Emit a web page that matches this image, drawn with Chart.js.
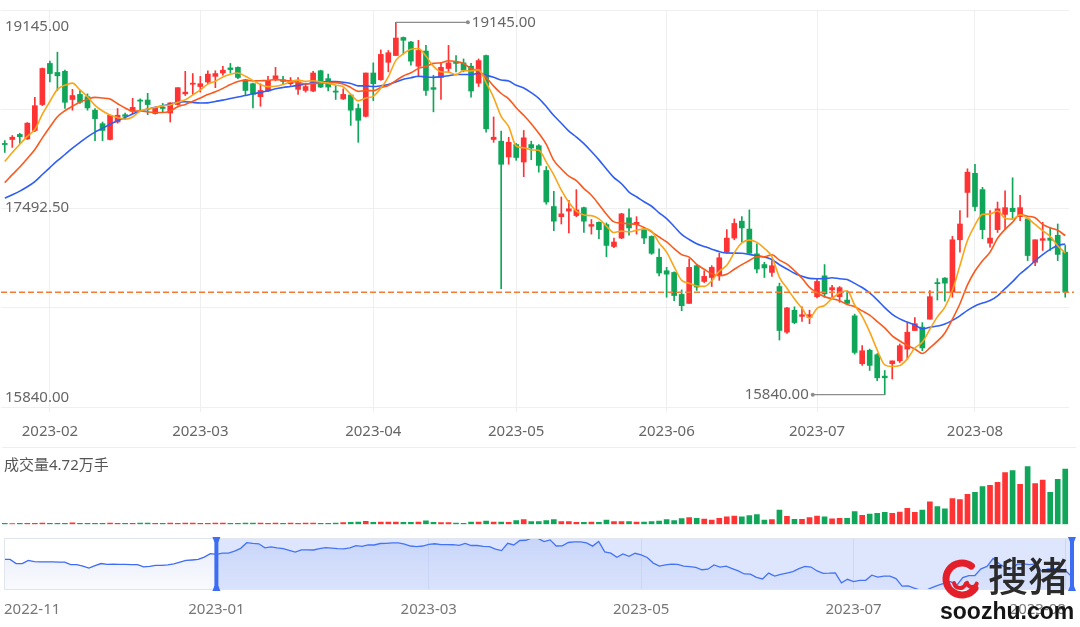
<!DOCTYPE html>
<html>
<head>
<meta charset="utf-8">
<title>K线</title>
<script src="https://cdn.jsdelivr.net/npm/chart.js@4.4.0/dist/chart.umd.min.js"></script>
<style>
  body { margin: 0; background: #fff; }
  #wrap { position: relative; width: 1080px; height: 627px; overflow: hidden; }
  canvas { position: absolute; left: 0; }
  #sep { position: absolute; left: 2px; top: 447px; width: 1074px; height: 1px; background: #eeeeee; }
</style>
</head>
<body>
<div id="wrap">
  <canvas id="kline" width="1080" height="452" style="top:0"></canvas>
  <div id="sep"></div>
  <canvas id="vol" width="1080" height="80" style="top:450px"></canvas>
  <canvas id="slider" width="1080" height="100" style="top:530px"></canvas>
</div>
<script>
// closes before the visible window (only shown in the slider)
const preDates = [
  '2022-11-28','2022-11-29','2022-11-30','2022-12-01','2022-12-02','2022-12-05','2022-12-06','2022-12-07',
  '2022-12-08','2022-12-09','2022-12-12','2022-12-13','2022-12-14','2022-12-15','2022-12-16','2022-12-19',
  '2022-12-20','2022-12-21','2022-12-22','2022-12-23','2022-12-26','2022-12-27','2022-12-28','2022-12-29',
  '2022-12-30','2023-01-03','2023-01-04','2023-01-05','2023-01-06','2023-01-09','2023-01-10','2023-01-11',
  '2023-01-12','2023-01-13','2023-01-16'
];
const preCloses = [
  17760,17760,17525,17525,17705,17640,17625,17620,17615,17610,
  17605,17460,17460,17380,17265,17400,17525,17480,17485,17475,
  17480,17460,17460,17330,17360,17415,17415,17450,17500,17600,
  17705,17730,17760,17900,18100
];

const dates = [
  '2023-01-17','2023-01-18','2023-01-19','2023-01-20','2023-01-30','2023-01-31',
  '2023-02-01','2023-02-02','2023-02-03','2023-02-06','2023-02-07','2023-02-08','2023-02-09','2023-02-10',
  '2023-02-13','2023-02-14','2023-02-15','2023-02-16','2023-02-17','2023-02-20','2023-02-21','2023-02-22',
  '2023-02-23','2023-02-24','2023-02-27','2023-02-28',
  '2023-03-01','2023-03-02','2023-03-03','2023-03-06','2023-03-07','2023-03-08','2023-03-09','2023-03-10',
  '2023-03-13','2023-03-14','2023-03-15','2023-03-16','2023-03-17','2023-03-20','2023-03-21','2023-03-22',
  '2023-03-23','2023-03-24','2023-03-27','2023-03-28','2023-03-29','2023-03-30','2023-03-31',
  '2023-04-03','2023-04-04','2023-04-06','2023-04-07','2023-04-10','2023-04-11','2023-04-12','2023-04-13',
  '2023-04-14','2023-04-17','2023-04-18','2023-04-19','2023-04-20','2023-04-21','2023-04-24','2023-04-25',
  '2023-04-26','2023-04-27','2023-04-28',
  '2023-05-04','2023-05-05','2023-05-08','2023-05-09','2023-05-10','2023-05-11','2023-05-12','2023-05-15',
  '2023-05-16','2023-05-17','2023-05-18','2023-05-19','2023-05-22','2023-05-23','2023-05-24','2023-05-25',
  '2023-05-26','2023-05-29','2023-05-30','2023-05-31',
  '2023-06-01','2023-06-02','2023-06-05','2023-06-06','2023-06-07','2023-06-08','2023-06-09','2023-06-12',
  '2023-06-13','2023-06-14','2023-06-15','2023-06-16','2023-06-19','2023-06-20','2023-06-21','2023-06-26',
  '2023-06-27','2023-06-28','2023-06-29','2023-06-30',
  '2023-07-03','2023-07-04','2023-07-05','2023-07-06','2023-07-07','2023-07-10','2023-07-11','2023-07-12',
  '2023-07-13','2023-07-14','2023-07-17','2023-07-18','2023-07-19','2023-07-20','2023-07-21','2023-07-24',
  '2023-07-25','2023-07-26','2023-07-27','2023-07-28','2023-07-31',
  '2023-08-01','2023-08-02','2023-08-03','2023-08-04','2023-08-07','2023-08-08','2023-08-09','2023-08-10',
  '2023-08-11','2023-08-14','2023-08-15','2023-08-16','2023-08-17'
];

const opens = [
  18070,18105,18150,18110,18185,18415,18780,18700,18710,18460,
  18505,18485,18365,18245,18105,18260,18325,18355,18455,18455,
  18335,18390,18340,18415,18510,18595,18575,18615,18665,18695,
  18740,18745,18635,18600,18485,18535,18645,18635,18600,18550,
  18540,18535,18715,18645,18535,18465,18500,18380,18310,18695,
  18635,18790,18850,19010,18970,18755,18890,18565,18655,18735,
  18795,18785,18755,18605,18850,18105,18090,17950,18060,17905,
  18060,18050,17830,17510,17420,17470,17430,17500,17335,17370,
  17350,17155,17230,17410,17350,17305,17245,17060,16940,16925,
  16730,16650,16985,16845,16880,16905,17105,17230,17380,17310,
  17090,16995,16925,16800,16395,16590,16535,16525,16710,16895,
  16770,16710,16680,16540,16115,16235,16195,16005,16115,16140,
  16245,16410,16440,16510,16835,16875,16750,17215,17635,17805,
  17660,17185,17305,17440,17495,17420,17400,17015,17210,17230,
  17255,17105
];
const highs = [
  18095,18140,18160,18255,18480,18740,18800,18880,18720,18550,
  18540,18510,18380,18260,18320,18380,18340,18470,18465,18515,
  18390,18425,18430,18565,18710,18690,18665,18715,18715,18755,
  18780,18750,18640,18605,18600,18665,18745,18665,18655,18655,
  18605,18710,18720,18685,18585,18555,18505,18420,18695,18785,
  18900,18895,19145,19015,18975,18985,18940,18675,18785,18940,
  18850,18820,18780,18820,18855,18305,18180,18125,18070,18185,
  18090,18060,17865,17645,17595,17565,17660,17505,17395,17375,
  17365,17230,17450,17490,17420,17310,17250,17135,16970,16930,
  16770,17045,16995,16940,16985,17095,17305,17400,17420,17480,
  17180,17015,17030,16830,16615,16620,16620,16590,16865,16995,
  16810,16800,16760,16555,16275,16245,16205,16055,16140,16290,
  16480,16525,16480,16765,16870,16880,17245,17475,17845,17885,
  17680,17475,17550,17650,17765,17610,17405,17215,17370,17320,
  17355,17165
];
const lows = [
  17990,18035,18070,18105,18175,18405,18615,18540,18380,18365,
  18425,18365,18095,18095,18100,18250,18280,18335,18365,18325,
  18330,18350,18260,18410,18495,18505,18525,18600,18565,18675,
  18695,18645,18495,18385,18400,18530,18625,18595,18585,18505,
  18525,18530,18565,18535,18460,18460,18230,18080,18305,18450,
  18630,18705,18850,18865,18765,18660,18495,18350,18460,18700,
  18705,18705,18480,18575,18170,18080,16780,17885,17920,17775,
  17925,17815,17530,17295,17355,17275,17420,17280,17265,17225,
  17065,17145,17225,17255,17265,17180,17085,16895,16705,16675,
  16585,16650,16765,16835,16800,16855,17095,17215,17195,17095,
  16920,16880,16890,16325,16385,16470,16490,16470,16700,16705,
  16705,16660,16645,16200,16100,16055,15965,15840,15980,16125,
  16155,16410,16230,16510,16680,16670,16705,17105,17415,17470,
  17225,17150,17280,17305,17400,17385,17030,16985,17120,17120,
  17030,16705
];
const closes = [
  18060,18125,18130,18250,18405,18735,18690,18670,18435,18495,
  18435,18385,18290,18185,18320,18320,18310,18390,18445,18415,
  18385,18380,18430,18565,18525,18605,18600,18685,18690,18720,
  18725,18655,18540,18505,18540,18630,18670,18620,18625,18615,
  18575,18695,18570,18570,18525,18505,18365,18275,18695,18600,
  18860,18875,19005,18985,18800,18895,18540,18550,18745,18785,
  18780,18720,18535,18805,18200,18125,17885,18080,17945,18120,
  18030,17875,17550,17380,17445,17490,17480,17380,17350,17305,
  17165,17195,17445,17320,17370,17230,17095,16920,16910,16720,
  16630,16970,16795,16890,16970,17055,17230,17360,17320,17095,
  16955,16965,16985,16410,16610,16480,16550,16550,16845,16735,
  16790,16790,16650,16215,16230,16100,15990,15990,16140,16275,
  16395,16470,16255,16710,16825,16830,17215,17355,17815,17510,
  17305,17230,17490,17500,17465,17500,17075,17215,17225,17210,
  17085,16750
];
// volume, 手
const volumes = [
  800,700,900,800,900,1000,900,800,800,1200,
  900,800,900,900,1000,900,800,900,1000,1000,
  900,900,1000,900,1000,1000,900,900,1000,1000,
  900,900,1000,1000,1000,900,1000,900,1000,900,
  1000,1000,900,900,1000,1500,1700,1800,2600,1700,
  2000,2000,1800,1600,1700,1800,3000,1700,1400,1400,
  1100,900,2000,2000,2800,2000,2000,1700,3100,4000,
  2300,2300,3100,4000,2300,2300,1700,1700,2000,1700,
  3700,2300,2300,2300,2000,2000,2300,2800,4000,3100,
  4800,5700,5100,4500,3700,5100,6300,7100,6300,7400,
  8200,3700,4000,12200,6800,4300,4200,5700,7100,6300,
  4600,5100,5100,10800,7700,8800,9400,10200,9400,10500,
  13700,10200,12200,19100,15100,13100,21900,21000,25600,27300,
  32100,33300,35800,44100,45800,34100,49200,34700,37800,27300,
  38400,47200
];

const sliderTickIdx = [0, 35, 70, 105, 140, 175];
const sliderTickText = ['2022-11', '2023-01', '2023-03', '2023-05', '2023-07', '2023-08'];

const FONT = "'Noto Sans', 'Noto Sans CJK SC', sans-serif";
const UP = '#ff3333';
const DOWN = '#10a659';

const candleColors = opens.map((o, i) => (closes[i] >= o ? UP : DOWN));
const allCloses = preCloses.concat(closes);

function movingAverage(n) {
  return closes.map((c, i) => {
    const end = preCloses.length + i;
    let s = 0;
    for (let k = end - n + 1; k <= end; k++) s += allCloses[k];
    return s / n;
  });
}

function isMonthStart(idx) {
  return idx > 0 && dates[idx].slice(0, 7) !== dates[idx - 1].slice(0, 7);
}

const priceMin = Math.min(...lows);
const priceMax = Math.max(...highs);
const pad = (priceMax - priceMin) * 0.033;

// last price line, axis labels, high/low marks
const kDecor = {
  id: 'kDecor',
  afterDatasetsDraw(chart) {
    const { ctx, chartArea: a, scales: { x, y } } = chart;
    const last = closes[closes.length - 1];
    ctx.save();
    const yl = y.getPixelForValue(last);
    ctx.strokeStyle = '#f47a36';
    ctx.lineWidth = 1.5;
    ctx.setLineDash([6, 3]);
    ctx.beginPath();
    ctx.moveTo(a.left, yl);
    ctx.lineTo(a.right + 5, yl);
    ctx.stroke();
    ctx.setLineDash([]);

    ctx.font = '15px ' + FONT;
    ctx.fillStyle = '#666';
    ctx.textBaseline = 'middle';
    ctx.textAlign = 'left';
    [[priceMax, 4], [(priceMax + priceMin) / 2, -1], [priceMin, 3]].forEach(([v, dy]) => {
      ctx.fillText(v.toFixed(2), a.left + 4, y.getPixelForValue(v) + dy);
    });

    const mark = (idx, v, dir) => {
      const px = x.getPixelForValue(idx);
      const py = y.getPixelForValue(v);
      const ex = px + dir * 72;
      ctx.strokeStyle = '#8c8c8c';
      ctx.lineWidth = 1.2;
      ctx.beginPath();
      ctx.moveTo(px, py);
      ctx.lineTo(ex, py);
      ctx.stroke();
      ctx.fillStyle = '#8c8c8c';
      ctx.beginPath();
      ctx.arc(ex, py, 2, 0, Math.PI * 2);
      ctx.fill();
      ctx.fillStyle = '#666';
      ctx.textAlign = dir > 0 ? 'left' : 'right';
      ctx.fillText(v.toFixed(2), ex + dir * 4, py);
    };
    mark(highs.indexOf(priceMax), priceMax, 1);
    mark(lows.indexOf(priceMin), priceMin, -1);
    ctx.restore();
  }
};

const klineChart = new Chart(document.getElementById('kline'), {
  type: 'bar',
  data: {
    labels: dates,
    datasets: [
      { type: 'line', label: 'MA5', data: movingAverage(5), borderColor: '#f9a51a', borderWidth: 1.6,
        pointRadius: 0, cubicInterpolationMode: 'monotone', order: 1 },
      { type: 'line', label: 'MA10', data: movingAverage(10), borderColor: '#fa5a1e', borderWidth: 1.6,
        pointRadius: 0, cubicInterpolationMode: 'monotone', order: 1 },
      { type: 'line', label: 'MA20', data: movingAverage(20), borderColor: '#2f5ef5', borderWidth: 1.6,
        pointRadius: 0, cubicInterpolationMode: 'monotone', order: 1 },
      { label: 'body', data: opens.map((o, i) => [o, closes[i]]), backgroundColor: candleColors,
        barThickness: 5, minBarLength: 1, grouped: false, order: 2 },
      { label: 'wick', data: lows.map((l, i) => [l, highs[i]]), backgroundColor: candleColors,
        barThickness: 1, grouped: false, order: 3 }
    ]
  },
  options: {
    responsive: false,
    animation: false,
    layout: { padding: { left: 1, right: 11, top: 10, bottom: 0 } },
    plugins: { legend: { display: false }, tooltip: { enabled: false } },
    scales: {
      x: {
        offset: true,
        afterBuildTicks: (scale) => { scale.ticks = scale.ticks.filter((t) => isMonthStart(t.value)); },
        grid: { offset: false, color: '#efefef', drawTicks: true, tickLength: 5, tickColor: '#efefef' },
        border: { display: false },
        ticks: {
          autoSkip: false, maxRotation: 0, padding: 11, color: '#666',
          font: { size: 15, family: FONT },
          callback: (value) => dates[value].slice(0, 7)
        }
      },
      y: {
        min: priceMin - pad,
        max: priceMax + pad,
        afterBuildTicks: (scale) => {
          const step = (scale.max - scale.min) / 4;
          scale.ticks = [0, 1, 2, 3, 4].map((k) => ({ value: scale.min + k * step }));
        },
        grid: { color: '#efefef', drawTicks: false },
        border: { display: false },
        ticks: { display: false }
      }
    }
  },
  plugins: [kDecor]
});

const volLabel = {
  id: 'volLabel',
  afterDraw(chart) {
    const ctx = chart.ctx;
    ctx.save();
    ctx.font = '15px ' + FONT;
    ctx.fillStyle = '#555';
    ctx.textBaseline = 'middle';
    ctx.textAlign = 'left';
    ctx.fillText('成交量' + (volumes[volumes.length - 1] / 10000).toFixed(2) + '万手', 4, 16);
    ctx.restore();
  }
};

const volChart = new Chart(document.getElementById('vol'), {
  type: 'bar',
  data: {
    labels: dates,
    datasets: [{ data: volumes, backgroundColor: candleColors, barThickness: 5 }]
  },
  options: {
    responsive: false,
    animation: false,
    layout: { padding: { left: 1, right: 11, top: 15.7, bottom: 5.7 } },
    plugins: { legend: { display: false }, tooltip: { enabled: false } },
    scales: {
      x: { display: false, offset: true },
      y: { display: false, min: 0, max: 50000 }
    }
  },
  plugins: [volLabel]
});

const sliderDecor = {
  id: 'sliderDecor',
  afterDatasetsDraw(chart) {
    const { ctx, chartArea: a, scales: { x } } = chart;
    const x0 = x.getPixelForValue(preCloses.length);
    const x1 = x.getPixelForValue(allCloses.length - 1);
    ctx.save();
    ctx.fillStyle = 'rgba(100,140,245,0.22)';
    ctx.fillRect(x0, a.top, x1 - x0, a.bottom - a.top);
    ctx.strokeStyle = '#e1e5ee';
    ctx.lineWidth = 1;
    ctx.strokeRect(a.left + 0.5, a.top + 0.5, a.right - a.left - 1, a.bottom - a.top - 1);
    ctx.fillStyle = '#3d6df2';
    [x0, x1].forEach((hx) => {
      const t = a.top - 1, b = a.bottom + 1;
      ctx.fillRect(hx - 2, t, 4, b - t);
      ctx.beginPath();
      ctx.moveTo(hx - 4, t); ctx.lineTo(hx + 4, t); ctx.lineTo(hx + 2, t + 5); ctx.lineTo(hx - 2, t + 5);
      ctx.closePath(); ctx.fill();
      ctx.beginPath();
      ctx.moveTo(hx - 4, b); ctx.lineTo(hx + 4, b); ctx.lineTo(hx + 2, b - 5); ctx.lineTo(hx - 2, b - 5);
      ctx.closePath(); ctx.fill();
    });
    ctx.restore();
  },
  afterDraw(chart) {
    // site watermark
    const ctx = chart.ctx;
    ctx.save();
    ctx.strokeStyle = '#e3202a';
    ctx.lineCap = 'round';
    ctx.lineWidth = 7;
    ctx.beginPath();
    ctx.arc(962, 49, 16, 0.2 * Math.PI, 1.7 * Math.PI, false);
    ctx.stroke();
    ctx.lineWidth = 4;
    ctx.beginPath();
    ctx.arc(960, 52, 6, 0.1 * Math.PI, 0.95 * Math.PI, false);
    ctx.stroke();
    ctx.beginPath();
    ctx.arc(972, 52, 5, 0.1 * Math.PI, 0.95 * Math.PI, false);
    ctx.stroke();
    ctx.fillStyle = '#2b2b2b';
    ctx.font = '500 40px "Noto Sans CJK SC"';
    ctx.textBaseline = 'middle';
    ctx.textAlign = 'left';
    ctx.fillText('搜猪', 988, 46);
    ctx.fillStyle = '#151515';
    ctx.font = 'bold 23px "Liberation Sans", sans-serif';
    ctx.textBaseline = 'alphabetic';
    ctx.fillText('soozhu.com', 940, 89);
    ctx.restore();
  }
};

const sliderChart = new Chart(document.getElementById('slider'), {
  type: 'line',
  data: {
    labels: preDates.concat(dates),
    datasets: [{
      data: allCloses,
      borderColor: '#3d6cf5',
      borderWidth: 1.3,
      pointRadius: 0,
      fill: 'start',
      backgroundColor: (c) => {
        const area = c.chart.chartArea;
        if (!area) return 'rgba(220,226,248,0.4)';
        const g = c.chart.ctx.createLinearGradient(0, area.top, 0, area.bottom);
        g.addColorStop(0, 'rgba(200,210,245,0.5)');
        g.addColorStop(1, 'rgba(232,236,250,0.25)');
        return g;
      }
    }]
  },
  options: {
    responsive: false,
    animation: false,
    layout: { padding: { left: 4, right: 8, top: 8, bottom: 11 } },
    plugins: { legend: { display: false }, tooltip: { enabled: false } },
    scales: {
      x: {
        afterBuildTicks: (scale) => { scale.ticks = sliderTickIdx.map((v) => ({ value: v })); },
        grid: { color: '#e9ecf4', drawTicks: true, tickLength: 11, tickColor: 'rgba(0,0,0,0)' },
        border: { display: false },
        ticks: {
          autoSkip: false, maxRotation: 0, padding: 0, align: 'inner', color: '#777',
          font: { size: 15, family: FONT },
          callback: (value, index) => sliderTickText[index]
        }
      },
      y: { display: false, min: Math.min(...allCloses), max: Math.max(...allCloses) }
    }
  },
  plugins: [sliderDecor]
});
</script>
</body>
</html>
